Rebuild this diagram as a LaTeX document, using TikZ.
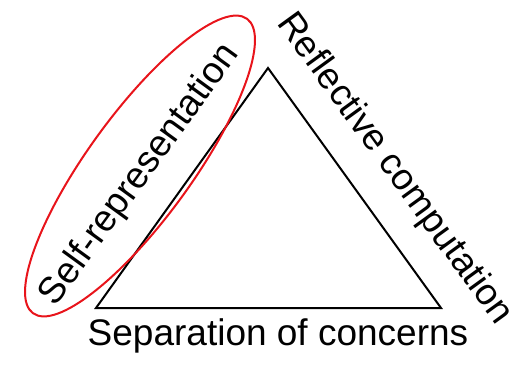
\documentclass[tikz,border=0pt]{standalone}
\usepackage{fontspec}
\setmainfont{Liberation Sans}
\usepackage{tikz}

\begin{document}
\begin{tikzpicture}[x=1pt,y=1pt]
\definecolor{ringRed}{HTML}{E8141B}
\tikzset{sidelabel/.style={font=\fontsize{37}{44}\selectfont, inner sep=0pt}}
\useasboundingbox (0,0) rectangle (518,364);
\coordinate (cornerL) at (96,56);
\coordinate (cornerR) at (441,56);
\coordinate (cornerT) at (268,296);
\draw[line width=2pt, line join=miter] (cornerL) -- (cornerR) -- (cornerT) -- cycle;
\node[sidelabel, anchor=base] (concerns) at (278,19) {Separation of concerns};
\node[sidelabel, rotate=54] (selfrep) at (140,189) {Self-representation};
\node[sidelabel, rotate=-54] (reflect) at (394,195) {Reflective computation};
\coordinate (ringC) at (140,198);
\draw[ringRed, line width=2pt, rotate around={54:(ringC)}]
  (ringC) ellipse [x radius=182, y radius=52];
\end{tikzpicture}
\end{document}
